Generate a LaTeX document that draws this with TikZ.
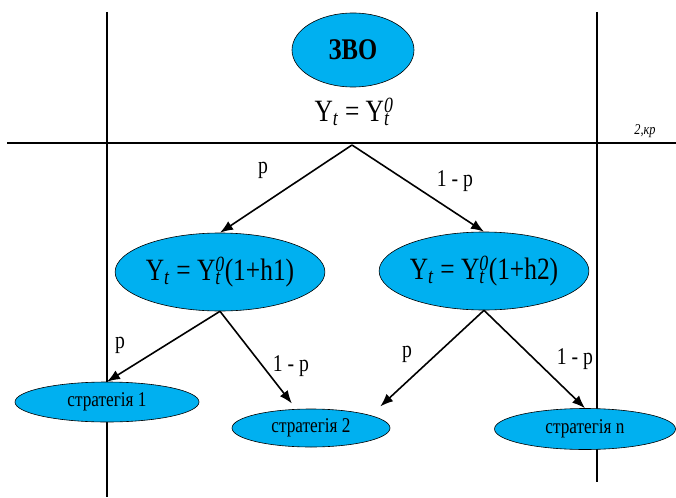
\documentclass[tikz,border=0pt]{standalone}
\usepackage{fontspec}
\setmainfont{Liberation Serif}
\newfontfamily\condfont[FakeStretch=0.82]{Liberation Serif}
\usetikzlibrary{arrows.meta, shapes.geometric}
\definecolor{zvoblue}{RGB}{0,176,240}

\newcommand{\Yt}{Y\textsubscript{\textit{t}}}
\newcommand{\Ytz}{Y\rlap{\textsubscript{\textit{t}}}\textsuperscript{\textit{0}}}

\begin{document}
\begin{tikzpicture}[
    x=1pt, y=-1pt,
    oval/.style={draw, ellipse, fill=zvoblue, inner sep=0pt, line width=0.6pt,
                 font=\condfont},
    axis/.style={line width=1.6pt},
    arr/.style={-{Latex[length=13pt, width=10pt]}, line width=1.6pt},
    lbl/.style={font=\condfont\fontsize{24}{26}\selectfont}
  ]
  \useasboundingbox (0,0) rectangle (676,497);

  % axes
  \draw[axis] (107,12) -- (107,497);
  \draw[axis] (597,12) -- (597,482);
  \draw[axis] (7,143) -- (676,143);
  \node[font=\condfont\itshape\fontsize{15}{17}\selectfont] (kr) at (645,131) {2,кр};

  % root
  \node[oval, minimum width=122pt, minimum height=74pt,
        font=\condfont\bfseries\fontsize{30}{32}\selectfont] (zvo) at (353,50) {ЗВО};
  \node[font=\condfont\fontsize{31}{33}\selectfont] (y0) at (354,112) {\Yt\ = \Ytz};
  \coordinate (root) at (352,145);

  % second level
  \node[oval, minimum width=184pt, minimum height=78pt,
        font=\condfont\fontsize{31}{33}\selectfont] (lmid) at (220,272) {\Yt\ = \Ytz(1+h1)};
  \node[oval, minimum width=182pt, minimum height=78pt,
        font=\condfont\fontsize{31}{33}\selectfont] (rmid) at (484,271) {\Yt\ = \Ytz(1+h2)};

  % strategies
  \node[oval, minimum width=184pt, minimum height=40pt,
        font=\condfont\fontsize{21}{23}\selectfont] (s1) at (107,402) {стратегія 1};
  \node[oval, minimum width=158pt, minimum height=38pt,
        font=\condfont\fontsize{21}{23}\selectfont] (s2) at (311,428) {стратегія 2};
  \node[oval, minimum width=181pt, minimum height=41pt,
        font=\condfont\fontsize{21}{23}\selectfont] (sn) at (585,429) {стратегія n};

  \draw[arr] (root) -- (lmid.north);
  \draw[arr] (root) -- (rmid.north);
  \draw[arr] (lmid.south) -- (s1.north);
  \draw[arr, shorten >=7pt] (lmid.south) -- (s2.128);
  \draw[arr, shorten >=13pt] (rmid.south) -- (s2.12);
  \draw[arr] (rmid.south) -- (sn.north);

  \node[lbl] (p1) at (263,170) {p};
  \node[lbl] (q1) at (455,181) {1 - p};
  \node[lbl] (p2) at (120,345) {p};
  \node[lbl] (q2) at (291,366) {1 - p};
  \node[lbl] (p3) at (407,354) {p};
  \node[lbl] (q3) at (575,359) {1 - p};
\end{tikzpicture}
\end{document}
